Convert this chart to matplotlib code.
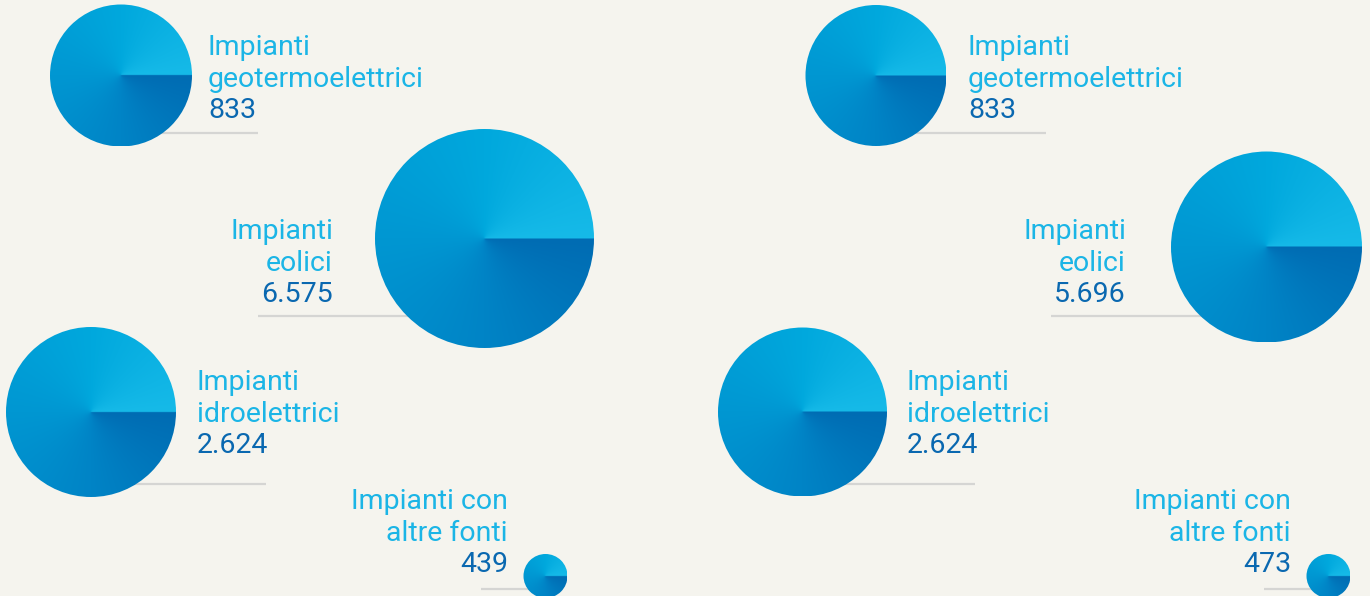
import matplotlib.pyplot as plt
import numpy as np
from matplotlib.colors import LinearSegmentedColormap
from matplotlib.patches import Circle

# impianti per fonte, due periodi a confronto
categorie = ["Impianti\ngeotermoelettrici", "Impianti\neolici",
             "Impianti\nidroelettrici", "Impianti con\naltre fonti"]
valori_sx = [833, 6575, 2624, 439]
valori_dx = [833, 5696, 2624, 473]

# layout dei cerchi (centro x, centro y, raggio) in pixel
cerchi_sx = [(121, 75.5, 71), (484.5, 238.5, 109.5), (91, 412, 85), (545.5, 576, 22)]
cerchi_dx = [(876, 75.5, 70.5), (1266.5, 247, 95.5), (802.5, 412, 84.5), (1328.5, 576, 22)]
# testo: x, allineamento, baseline della prima riga
testi_sx = [(208, "left", 55), (333, "right", 239), (197, "left", 390), (508, "right", 509)]
testi_dx = [(968, "left", 55), (1126, "right", 239), (907, "left", 390), (1291, "right", 509)]
# riga grigia: x fine (o inizio), y
righe_sx = [(258, 133), (258, 316), (266, 484), (481, 589)]
righe_dx = [(1046, 133), (1051, 316), (975, 484), (1264, 589)]

BG = "#f5f4ee"
CHIARO = "#1bb5e6"
SCURO = "#0a68b0"
GRIGIO = "#d5d5d3"
PASSO = 31.7

cmap = LinearSegmentedColormap.from_list(
    "conico", [(0.0, "#16bae8"), (0.25, "#00a8dd"), (0.5, "#0097d2"),
               (0.75, "#0084c6"), (1.0, "#006cb3")])

plt.rcParams["font.family"] = ["Roboto", "DejaVu Sans"]

fig = plt.figure(figsize=(13.7, 5.96), dpi=100, facecolor=BG)
ax = fig.add_axes([0, 0, 1, 1])
ax.set_facecolor(BG)
ax.set_xlim(0, 1370)
ax.set_ylim(596, 0)
ax.set_aspect("equal")
ax.axis("off")


def formatta(v):
    return f"{v:,}".replace(",", ".")


def cerchio(cx, cy, r):
    n = 300
    xs = np.linspace(cx - r, cx + r, n)
    ys = np.linspace(cy - r, cy + r, n)
    X, Y = np.meshgrid(xs, ys)
    ang = np.mod(np.arctan2(cy - Y, X - cx), 2 * np.pi) / (2 * np.pi)
    im = ax.imshow(ang, cmap=cmap, vmin=0, vmax=1, origin="upper",
                   extent=(cx - r, cx + r, cy + r, cy - r),
                   interpolation="bilinear", zorder=3)
    clip = Circle((cx, cy), r, transform=ax.transData)
    im.set_clip_path(clip)


def pannello(valori, cerchi, testi, righe):
    for cat, v, c, t, rg in zip(categorie, valori, cerchi, testi, righe):
        cx, cy, r = c
        tx, ha, ty = t
        lx, ly = rg
        ax.plot([min(lx, cx), max(lx, cx)], [ly, ly], color=GRIGIO, lw=1.6,
                solid_capstyle="butt", zorder=1)
        cerchio(cx, cy, r)
        righe_txt = cat.split("\n")
        for i, s in enumerate(righe_txt):
            ax.text(tx, ty + i * PASSO, s, ha=ha, va="baseline", color=CHIARO,
                    fontsize=20.5, zorder=4)
        ax.text(tx, ty + 2 * PASSO, formatta(v), ha=ha, va="baseline",
                color=SCURO, fontsize=20.5, zorder=4)


pannello(valori_sx, cerchi_sx, testi_sx, righe_sx)
pannello(valori_dx, cerchi_dx, testi_dx, righe_dx)

ax.set_xlim(0, 1370)
ax.set_ylim(596, 0)
fig.savefig("out.png", dpi=100, facecolor=BG)
